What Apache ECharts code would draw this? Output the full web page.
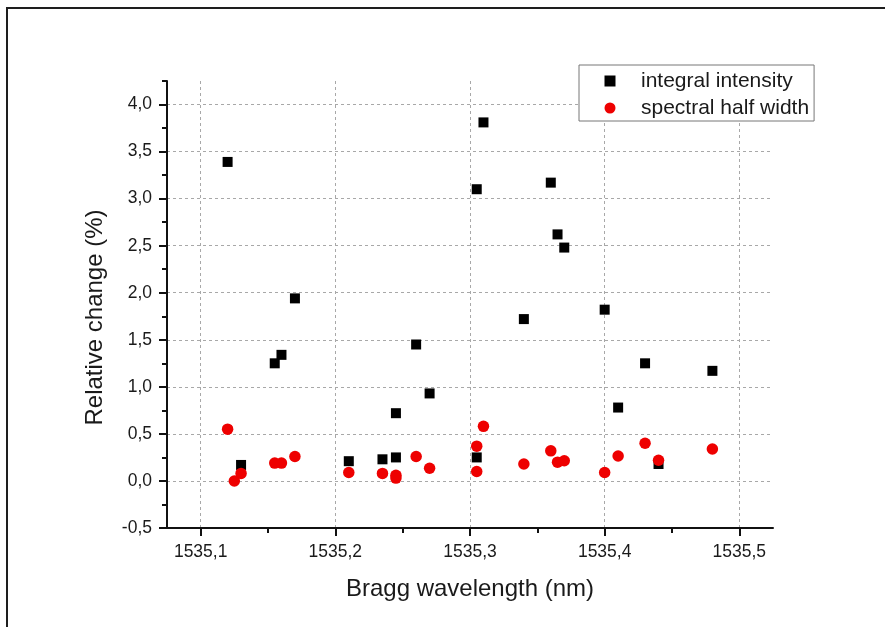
<!DOCTYPE html>
<html>
<head>
<meta charset="utf-8">
<script src="https://cdn.jsdelivr.net/npm/echarts@6/dist/echarts.min.js"></script>
<style>
  html, body { margin: 0; padding: 0; width: 885px; height: 627px; overflow: hidden; background: #fff; }
  /* page frame: only top and left edges fall inside the picture */
  #frame { position: absolute; left: 6px; top: 7px; width: 900px; height: 640px;
           border-top: 2px solid #1e1e1e; border-left: 2px solid #1e1e1e; }
  #chart { position: absolute; left: 0; top: 0; width: 885px; height: 627px; }
</style>
</head>
<body>
<div id="frame"></div>
<div id="chart"></div>
<script>
// integral intensity (black squares)
const intensityX = [1535.12, 1535.13, 1535.155, 1535.16, 1535.17, 1535.21, 1535.235, 1535.245, 1535.245,
  1535.26, 1535.27, 1535.305, 1535.305, 1535.31, 1535.34, 1535.36, 1535.365, 1535.37, 1535.40,
  1535.41, 1535.43, 1535.44, 1535.48];
const intensityY = [3.39, 0.17, 1.25, 1.34, 1.94, 0.21, 0.23, 0.72, 0.25,
  1.45, 0.93, 3.10, 0.25, 3.81, 1.72, 3.17, 2.62, 2.48, 1.82,
  0.78, 1.25, 0.18, 1.17];

// spectral half width (red circles)
const widthX = [1535.12, 1535.125, 1535.13, 1535.155, 1535.16, 1535.17, 1535.21, 1535.235, 1535.245, 1535.245,
  1535.26, 1535.27, 1535.305, 1535.305, 1535.31, 1535.34, 1535.36, 1535.365, 1535.37, 1535.40,
  1535.41, 1535.43, 1535.44, 1535.48];
const widthY = [0.55, 0.0, 0.08, 0.19, 0.19, 0.26, 0.09, 0.08, 0.06, 0.03,
  0.26, 0.135, 0.37, 0.10, 0.58, 0.18, 0.32, 0.20, 0.215, 0.09,
  0.265, 0.40, 0.22, 0.34];

// axis ticks
const xMajor = [1535.1, 1535.2, 1535.3, 1535.4, 1535.5];
const xMinor = [1535.15, 1535.25, 1535.35, 1535.45];
const yMajor = [-0.5, 0.0, 0.5, 1.0, 1.5, 2.0, 2.5, 3.0, 3.5, 4.0];
const yMinor = [-0.25, 0.25, 0.75, 1.25, 1.75, 2.25, 2.75, 3.25, 3.75, 4.25];

const X_MIN = 1535.075, X_MAX = 1535.525;
const Y_MIN = -0.5, Y_MAX = 4.25;

const FONT = '"Liberation Sans", Arial, sans-serif';
const TEXT = '#1a1a1a';
const comma = v => v.toFixed(1).replace('.', ',');

const chart = echarts.init(document.getElementById('chart'), null, { renderer: 'canvas' });

const option = {
  animation: false,
  textStyle: { fontFamily: FONT },
  grid: { left: 167, right: 112, top: 81, bottom: 99, outerBoundsMode: 'none' },
  legend: {
    orient: 'vertical',
    left: 579,
    top: 65,
    align: 'left',
    padding: [5, 5, 2, 25.5],
    itemGap: 5,
    itemWidth: 11,
    itemHeight: 11,
    borderColor: '#777',
    borderWidth: 1,
    borderRadius: 0,
    backgroundColor: '#fff',
    textStyle: { fontFamily: FONT, fontSize: 21, color: TEXT, lineHeight: 22, padding: [0, 0, 0, 20.5] },
    data: ['integral intensity', 'spectral half width']
  },
  xAxis: [
    {
      type: 'value',
      min: X_MIN,
      max: X_MAX,
      name: 'Bragg wavelength (nm)',
      nameLocation: 'middle',
      nameGap: 49,
      nameMoveOverlap: false,
      nameTextStyle: { fontFamily: FONT, fontSize: 24, color: TEXT },
      axisLine: { show: true, onZero: false, lineStyle: { color: '#111', width: 2 } },
      axisTick: { show: true, inside: false, length: 8, customValues: xMajor, lineStyle: { color: '#111', width: 2 } },
      axisLabel: { show: true, margin: 15, customValues: xMajor, fontFamily: FONT, fontSize: 17.5, color: TEXT, formatter: comma },
      splitLine: { show: true, lineStyle: { color: '#a8a8a8', width: 1, type: [3, 3] } }
    },
    {
      // minor ticks only
      type: 'value',
      position: 'bottom',
      min: X_MIN,
      max: X_MAX,
      axisLine: { show: false, onZero: false },
      axisTick: { show: true, length: 5, customValues: xMinor, lineStyle: { color: '#111', width: 2 } },
      axisLabel: { show: false },
      splitLine: { show: false }
    }
  ],
  yAxis: [
    {
      type: 'value',
      min: Y_MIN,
      max: Y_MAX,
      name: 'Relative change (%)',
      nameLocation: 'middle',
      nameGap: 60,
      nameMoveOverlap: false,
      nameTextStyle: { fontFamily: FONT, fontSize: 24, color: TEXT, padding: [0, 26, 0, 0] },
      axisLine: { show: true, onZero: false, lineStyle: { color: '#111', width: 2 } },
      axisTick: { show: true, inside: false, length: 8, customValues: yMajor, lineStyle: { color: '#111', width: 2 } },
      axisLabel: { show: true, margin: 15, customValues: yMajor, fontFamily: FONT, fontSize: 17.5, color: TEXT, formatter: comma },
      splitLine: { show: true, lineStyle: { color: '#a8a8a8', width: 1, type: [3, 3] } }
    },
    {
      // minor ticks only
      type: 'value',
      position: 'left',
      min: Y_MIN,
      max: Y_MAX,
      axisLine: { show: false, onZero: false },
      axisTick: { show: true, length: 5, customValues: yMinor, lineStyle: { color: '#111', width: 2 } },
      axisLabel: { show: false },
      splitLine: { show: false }
    }
  ],
  series: [
    {
      name: 'integral intensity',
      type: 'scatter',
      xAxisIndex: 0,
      yAxisIndex: 0,
      symbol: 'rect',
      symbolSize: 10,
      itemStyle: { color: '#000', opacity: 1 },
      data: intensityX.map((x, i) => [x, intensityY[i]])
    },
    {
      name: 'spectral half width',
      type: 'scatter',
      xAxisIndex: 0,
      yAxisIndex: 0,
      symbol: 'circle',
      symbolSize: 11.5,
      itemStyle: { color: '#ee0000', opacity: 1 },
      data: widthX.map((x, i) => [x, widthY[i]])
    }
  ]
};

chart.setOption(option);
</script>
</body>
</html>
